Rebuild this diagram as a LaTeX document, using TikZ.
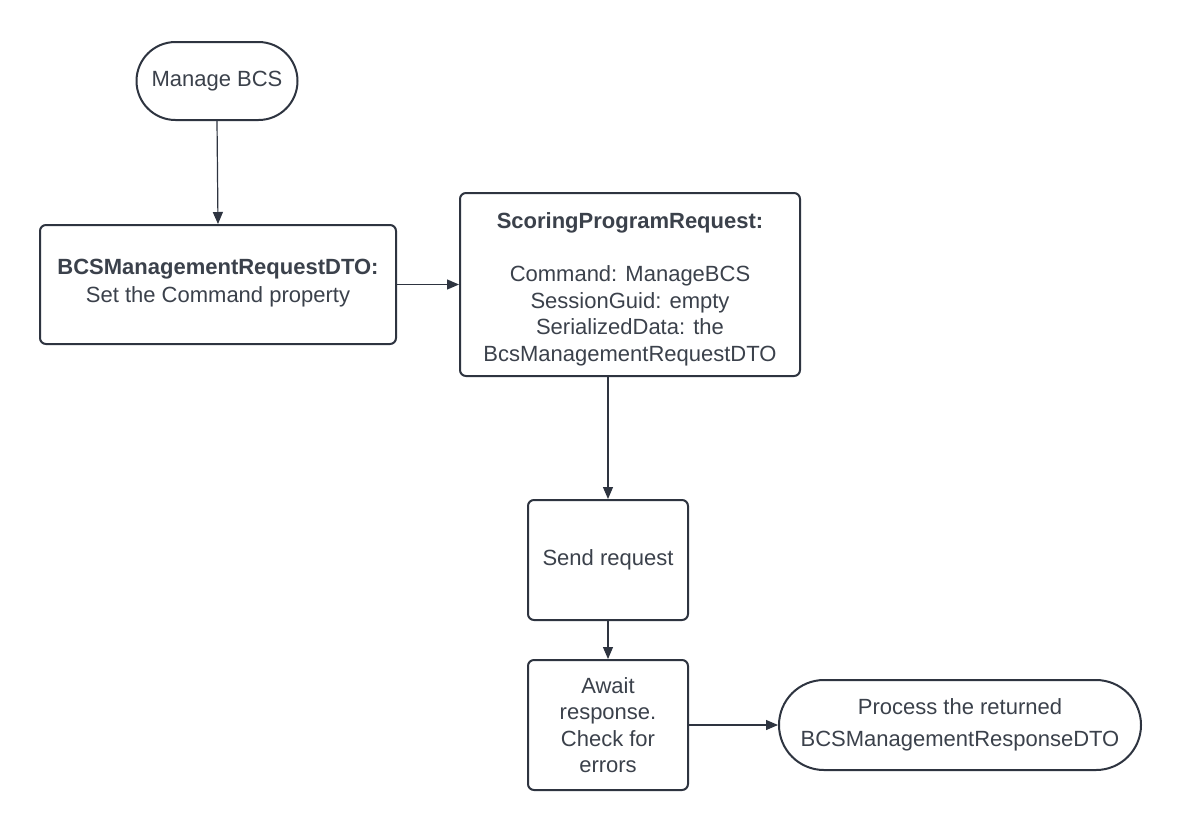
\documentclass[tikz,border=0pt]{standalone}
\usepackage{fontspec}
\setmainfont{Liberation Sans}
\usetikzlibrary{arrows.meta,shapes.misc}
\definecolor{ink}{HTML}{2E3440}
\definecolor{txt}{HTML}{3B414B}
\begin{document}
\begin{tikzpicture}[x=1pt,y=-1pt,
  base/.style={draw=ink, line width=2pt, fill=white, text=txt, align=center, inner sep=0pt,
    font=\fontsize{22}{26.5}\selectfont},
  stadium/.style={base, rounded rectangle},
  procbox/.style={base, rounded corners=6pt},
  conn/.style={draw=ink, line width=1.2pt, -{Triangle[length=12pt,width=10pt]}}]
\useasboundingbox[fill=white] (0,0) rectangle (1180,831);

\node[stadium, minimum width=161pt, minimum height=78pt] (start) at (217,81) {Manage BCS};
\node[procbox, minimum width=356pt, minimum height=119pt] (dto) at (218,284.5)
  {\textbf{BCSManagementRequestDTO:}\\[1.5pt]Set the Command property\\[-20pt]};
\node[procbox, minimum width=340pt, minimum height=183pt] (spr) at (630,284.5)
  {\rule{0pt}{26pt}\textbf{ScoringProgramRequest:}\\ \\Command: ManageBCS\\SessionGuid: empty\\SerializedData: the\\BcsManagementRequestDTO};
\node[procbox, minimum width=160pt, minimum height=120pt] (send) at (608,560) {Send request};
\node[procbox, minimum width=160pt, minimum height=130pt] (await) at (608,725)
  {Await\\response.\\Check for\\errors};
\node[stadium, minimum width=362pt, minimum height=90pt] (proc) at (960,725)
  {Process the returned\\[5pt]BCSManagementResponseDTO};

\draw[conn] (start.south) -- (dto.north);
\draw[conn] (dto.east) -- (spr.west);
\draw[conn] (spr.south -| send.north) -- (send.north);
\draw[conn] (send.south) -- (await.north);
\draw[conn] (await.east) -- (proc.west);
\end{tikzpicture}
\end{document}
